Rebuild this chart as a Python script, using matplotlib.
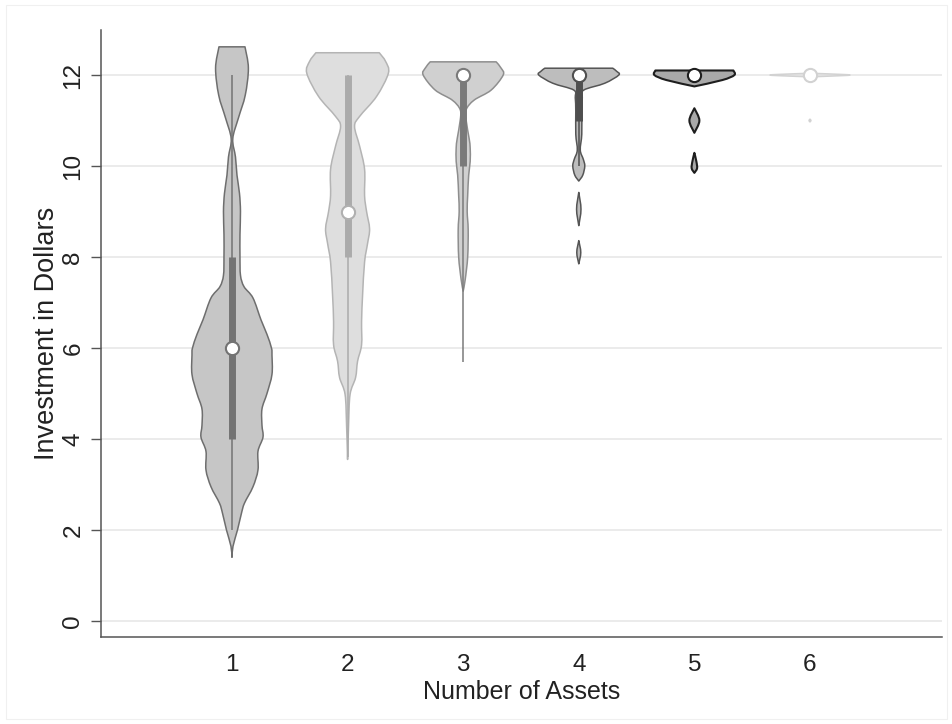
import matplotlib
matplotlib.use("Agg")
import matplotlib.pyplot as plt
from matplotlib.patches import Rectangle, PathPatch
from matplotlib.path import Path
import numpy as np

plt.rcParams['font.family'] = ['Liberation Sans', 'DejaVu Sans']

# ---- data -------------------------------------------------------------
categories = [1, 2, 3, 4, 5, 6]
tick_labels = ["1", "2", "3", "4", "5", "6"]

# density profiles (level, relative half-width in pixels of the original, max ~40)
v1_levels = [1.40, 1.64, 2.0, 2.37, 2.59, 2.95, 3.32, 3.73, 4.04, 4.3, 4.66, 5.0, 5.42, 5.84, 6.0,
             6.3, 6.62, 7.1, 7.35, 7.6, 8.0, 8.5, 9.0, 9.4, 9.8, 10.2, 10.6, 11.06, 11.56, 12.15, 12.62]
v1_dens = [0, 1, 5.5, 9.5, 12.5, 21, 26, 26, 31, 30, 30, 35, 40, 40, 39.5,
           35, 29, 21, 12, 8.5, 8, 8, 8.5, 7.5, 5, 3.5, 0.8, 6.5, 13.3, 16.4, 13]

v2_levels = [3.55, 4.3, 4.98, 5.35, 5.71, 6.07, 6.58, 7.16, 7.89, 8.3, 8.62, 9.0, 9.35, 9.93,
             10.44, 10.87, 11.09, 11.53, 12.04, 12.3, 12.49]
v2_dens = [0, 1, 2.5, 8, 10, 14, 14, 15, 17, 20, 22, 19, 17, 17, 12, 7, 12, 29, 40.8, 38, 31.7]

v3_levels = [7.25, 7.5, 8.0, 8.6, 9.0, 9.35, 9.8, 10.1, 10.4, 10.6, 11.0, 11.24, 11.45, 11.67,
             12.0, 12.15, 12.29]
v3_dens = [0, 2, 4.5, 5, 4, 4.5, 5.5, 7, 7, 6, 3, 3, 11, 28, 40, 38, 33]

v4_levels = [7.85, 8.1, 8.36, 8.69, 9.05, 9.42, 9.67, 9.8, 10.0, 10.15, 10.35, 10.7, 11.2,
             11.5, 11.67, 11.82, 12.0, 12.08, 12.15]
v4_dens = [0, 2.0, 0, 0, 2.2, 0, 0, 4, 6, 4.5, 1.5, 3, 3, 3.5, 5, 26, 40, 38, 34]

v5_levels = [9.85, 9.95, 10.1, 10.29, 10.73, 11.0, 11.27, 11.75, 11.89, 12.0, 12.1]
v5_dens = [0, 2.7, 2, 0, 0, 5, 0, 0, 28, 40, 39]

v6_levels = [10.97, 11.0, 11.03, 11.96, 11.985, 12.0, 12.015, 12.04]
v6_dens = [0, 1, 0, 0, 30, 40, 30, 0]

# box summaries: lower whisker, q1, median, q3, upper whisker
whisker_lo = [2.0, 3.6, 5.7, 10.0, 12.0, 12.0]
q1 = [4.0, 8.0, 10.0, 11.0, 12.0, 12.0]
median = [6.0, 9.0, 12.0, 12.0, 12.0, 12.0]
q3 = [8.0, 12.0, 12.0, 12.0, 12.0, 12.0]
whisker_hi = [12.0, 12.0, 12.0, 12.0, 12.0, 12.0]

profiles = [(v1_levels, v1_dens), (v2_levels, v2_dens), (v3_levels, v3_dens),
            (v4_levels, v4_dens), (v5_levels, v5_dens), (v6_levels, v6_dens)]

fills = ['#c6c6c6', '#dedede', '#d0d0d0', '#bdbdbd', '#a9a9a9', '#e6e6e6']
edges = ['#6e6e6e', '#b4b4b4', '#8e8e8e', '#555555', '#1e1e1e', '#d2d2d2']
boxc = ['#737373', '#ababab', '#7a7a7a', '#4f4f4f', '#1e1e1e', '#d2d2d2']
edge_lw = [1.1, 1.1, 1.1, 1.1, 1.5, 1.1]

PX_PER_X = 115.6  # pixel per x-unit in this layout

# ---- figure -----------------------------------------------------------
W, H = 953, 724
fig = plt.figure(figsize=(W / 100, H / 100), dpi=100)
fig.patch.set_facecolor('white')
fig.patches.append(Rectangle((6 / W, 5 / H), (947 - 6) / W, (719 - 5) / H,
                             transform=fig.transFigure, fill=False,
                             edgecolor='#f0f0f0', lw=0.8))

ax = fig.add_axes([101 / W, 1 - 637 / H, (942 - 101) / W, (637 - 30) / H])
ax.set_xlim(-0.133, 7.142)
ax.set_ylim(-0.352, 12.99)

for g in range(0, 13, 2):
    ax.axhline(g, color='#e9e9e9', lw=1.3, zorder=0)


def segments(levels, dens):
    levels = np.asarray(levels, float)
    dens = np.asarray(dens, float)
    segs = []
    start = 0
    for i in range(1, len(dens)):
        if dens[i] == 0 and dens[i - 1] == 0:
            start = i
            continue
        if dens[i] == 0 and i > start:
            segs.append((levels[start:i + 1], dens[start:i + 1]))
            start = i
    if start < len(dens) - 1:
        segs.append((levels[start:], dens[start:]))
    return segs


def bezier_side(y, w):
    """Catmull-Rom -> cubic bezier control points of the outline w(y)."""
    n = len(y)
    P = np.column_stack([w, y])
    ctrl = []
    for k in range(n - 1):
        p0 = P[k - 1] if k > 0 else P[k]
        p1, p2 = P[k], P[k + 1]
        p3 = P[k + 2] if k + 2 < n else P[k + 1]
        c1 = p1 + (p2 - p0) / 6.0
        c2 = p2 - (p3 - p1) / 6.0
        c1[0] = max(c1[0], 0)
        c2[0] = max(c2[0], 0)
        c1[1] = min(max(c1[1], p1[1]), p2[1])
        c2[1] = min(max(c2[1], p1[1]), p2[1])
        ctrl.append((c1, c2, p2))
    return P[0], ctrl


def violin_path(cx, y, w):
    start, ctrl = bezier_side(y, w)
    verts = [(cx + start[0], start[1])]
    codes = [Path.MOVETO]
    for c1, c2, p2 in ctrl:
        verts += [(cx + c1[0], c1[1]), (cx + c2[0], c2[1]), (cx + p2[0], p2[1])]
        codes += [Path.CURVE4] * 3
    verts.append((cx - w[-1], y[-1]))
    codes.append(Path.LINETO)
    pts = [start] + [c[2] for c in ctrl]
    for k in range(len(ctrl) - 1, -1, -1):
        c1, c2, p2 = ctrl[k]
        p1 = pts[k]
        verts += [(cx - c2[0], c2[1]), (cx - c1[0], c1[1]), (cx - p1[0], p1[1])]
        codes += [Path.CURVE4] * 3
    verts.append((cx + start[0], start[1]))
    codes.append(Path.CLOSEPOLY)
    return Path(verts, codes)


for i, (cx, (lv, dn)) in enumerate(zip(categories, profiles)):
    for seg in segments(lv, dn):
        y, d = seg
        hw = d / PX_PER_X
        patch = PathPatch(violin_path(cx, y, hw), facecolor=fills[i], edgecolor=edges[i],
                          lw=edge_lw[i], zorder=3, joinstyle='round')
        ax.add_patch(patch)
    ax.plot([cx, cx], [whisker_lo[i], whisker_hi[i]], color=boxc[i], lw=1.1,
            zorder=4, solid_capstyle='butt')
    if q3[i] > q1[i]:
        ax.plot([cx, cx], [q1[i], q3[i]], color=boxc[i], lw=5.0, zorder=5,
                solid_capstyle='butt')
    ax.plot([cx], [median[i]], marker='o', markersize=9.5, markerfacecolor='white',
            markeredgecolor=boxc[i] if i != 1 else '#b0b0b0', markeredgewidth=1.5, zorder=6)

ax.set_xticks(categories)
ax.set_xticklabels(tick_labels)
ax.set_yticks(range(0, 13, 2))
ax.set_yticklabels([str(v) for v in range(0, 13, 2)], rotation=90, va='center')

for s in ['top', 'right']:
    ax.spines[s].set_visible(False)
for s in ['left', 'bottom']:
    ax.spines[s].set_color('#555555')
    ax.spines[s].set_linewidth(1.1)

ax.tick_params(axis='x', length=0, pad=12, labelsize=17.5, colors='#222222')
ax.tick_params(axis='y', length=7, width=1.0, color='#555555', pad=5,
               labelsize=17.5, labelcolor='#222222')

ax.set_xlabel('Number of Assets', fontsize=18, color='#222222', labelpad=3)
ax.set_ylabel('Investment in Dollars', fontsize=19.5, color='#222222', labelpad=2)

fig.savefig('out.png', dpi=100, facecolor='white')
